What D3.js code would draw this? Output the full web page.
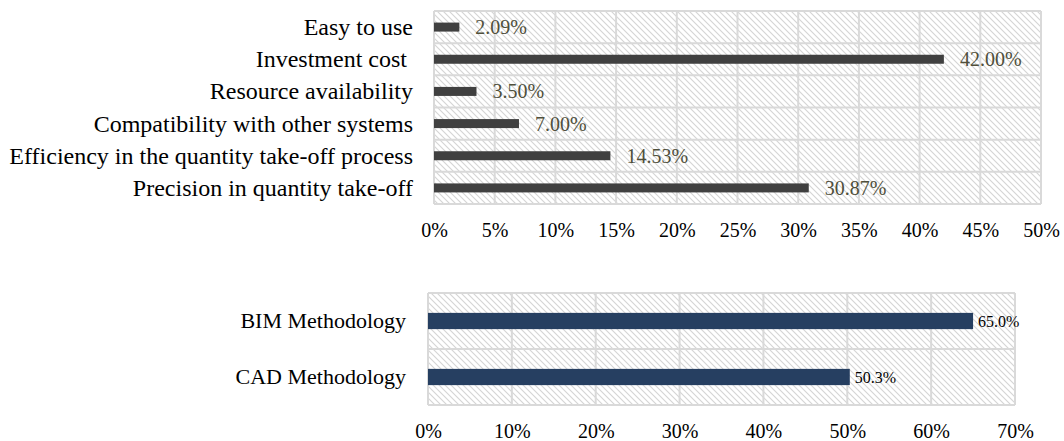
<!DOCTYPE html>
<html><head><meta charset="utf-8">
<script src="https://cdn.jsdelivr.net/npm/d3@7"></script>
<style>
html,body{margin:0;padding:0;background:#fff;}
svg{display:block;font-family:"Liberation Serif","Times New Roman",serif;}
</style></head>
<body>
<svg id="c" width="1064" height="441"></svg>
<script>
// ---- data ----
const topCategories = ["Easy to use","Investment cost ","Resource availability","Compatibility with other systems","Efficiency in the quantity take-off process","Precision in quantity take-off"];
const topValues = [2.09, 42.00, 3.50, 7.00, 14.53, 30.87];
const topTicks = [0,5,10,15,20,25,30,35,40,45,50];

const botCategories = ["BIM Methodology","CAD Methodology"];
const botValues = [65.0, 50.3];
const botTicks = [0,10,20,30,40,50,60,70];

const svg = d3.select("#c");
const defs = svg.append("defs");
const pat = defs.append("pattern").attr("id","hatch").attr("patternUnits","userSpaceOnUse")
  .attr("width",6).attr("height",6);
pat.append("rect").attr("width",6).attr("height",6).attr("fill","#fff");
pat.append("path").attr("d","M-1,-1L7,7M-1,5L1,7M5,-1L7,1")
  .attr("stroke","#d4d4d4").attr("stroke-width",1.1).attr("fill","none");

function drawChart(cfg){
  const g = svg.append("g");
  const x = d3.scaleLinear().domain(cfg.domain).range([cfg.x0, cfg.x1]);
  const y = d3.scaleBand().domain(cfg.cats).range([cfg.y0, cfg.y1]).padding(0);
  const bh = y.bandwidth()*cfg.barFrac;
  g.append("rect").attr("x",cfg.x0).attr("y",cfg.y0).attr("width",cfg.x1-cfg.x0).attr("height",cfg.y1-cfg.y0)
    .attr("fill","url(#hatch)");
  g.selectAll(".vg").data(cfg.ticks).join("line")
    .attr("x1",d=>x(d)).attr("x2",d=>x(d)).attr("y1",cfg.y0).attr("y2",cfg.y1)
    .attr("stroke","#d9d9d9").attr("stroke-width",2);
  const hb = cfg.cats.map(c=>y(c)).concat([cfg.y1]);
  g.selectAll(".hg").data(hb).join("line")
    .attr("x1",cfg.x0).attr("x2",cfg.x1).attr("y1",d=>d).attr("y2",d=>d)
    .attr("stroke","#d9d9d9").attr("stroke-width",2);
  g.selectAll(".bar").data(cfg.vals).join("rect")
    .attr("x",x(0)).attr("y",(d,i)=>y(cfg.cats[i])+(y.bandwidth()-bh)/2)
    .attr("width",d=>x(d)-x(0)).attr("height",bh).attr("fill",cfg.barColor);
  g.selectAll(".vl").data(cfg.vals).join("text")
    .attr("x",d=>x(d)+cfg.labelGap).attr("y",(d,i)=>y(cfg.cats[i])+y.bandwidth()/2)
    .attr("dy","0.35em").attr("font-size",cfg.valFont).attr("fill",cfg.valColor)
    .text(d=>d.toFixed(cfg.dec)+"%");
  g.selectAll(".cl").data(cfg.cats).join("text")
    .attr("x",cfg.catX).attr("y",d=>y(d)+y.bandwidth()/2).attr("dy","0.33em")
    .attr("text-anchor","end").attr("font-size",cfg.catFont).attr("fill","#000")
    .style("white-space","pre").attr("xml:space","preserve")
    .text(d=>d);
  const ax = g.append("g").attr("transform",`translate(0,${cfg.tickY})`)
    .call(d3.axisBottom(x).tickValues(cfg.ticks).tickFormat(d=>d+"%").tickSize(0).tickPadding(0));
  ax.select(".domain").remove();
  ax.selectAll("text").attr("font-size",cfg.tickFont).attr("font-family","Liberation Serif, Times New Roman, serif")
    .attr("fill","#000").attr("dy","0");
}

drawChart({cats:topCategories, vals:topValues, ticks:topTicks, domain:[0,50],
  x0:434, x1:1041, y0:11, y1:204, barFrac:0.28, barColor:"#404040",
  labelGap:16, valFont:20, valColor:"#4f4f3b", dec:2,
  catX:413, catFont:24, tickY:237, tickFont:20});

drawChart({cats:botCategories, vals:botValues, ticks:botTicks, domain:[0,70],
  x0:428, x1:1015, y0:293, y1:405, barFrac:0.29, barColor:"#263f61",
  labelGap:5, valFont:16, valColor:"#000", dec:1,
  catX:406, catFont:22, tickY:438, tickFont:20});
</script>
</body></html>
